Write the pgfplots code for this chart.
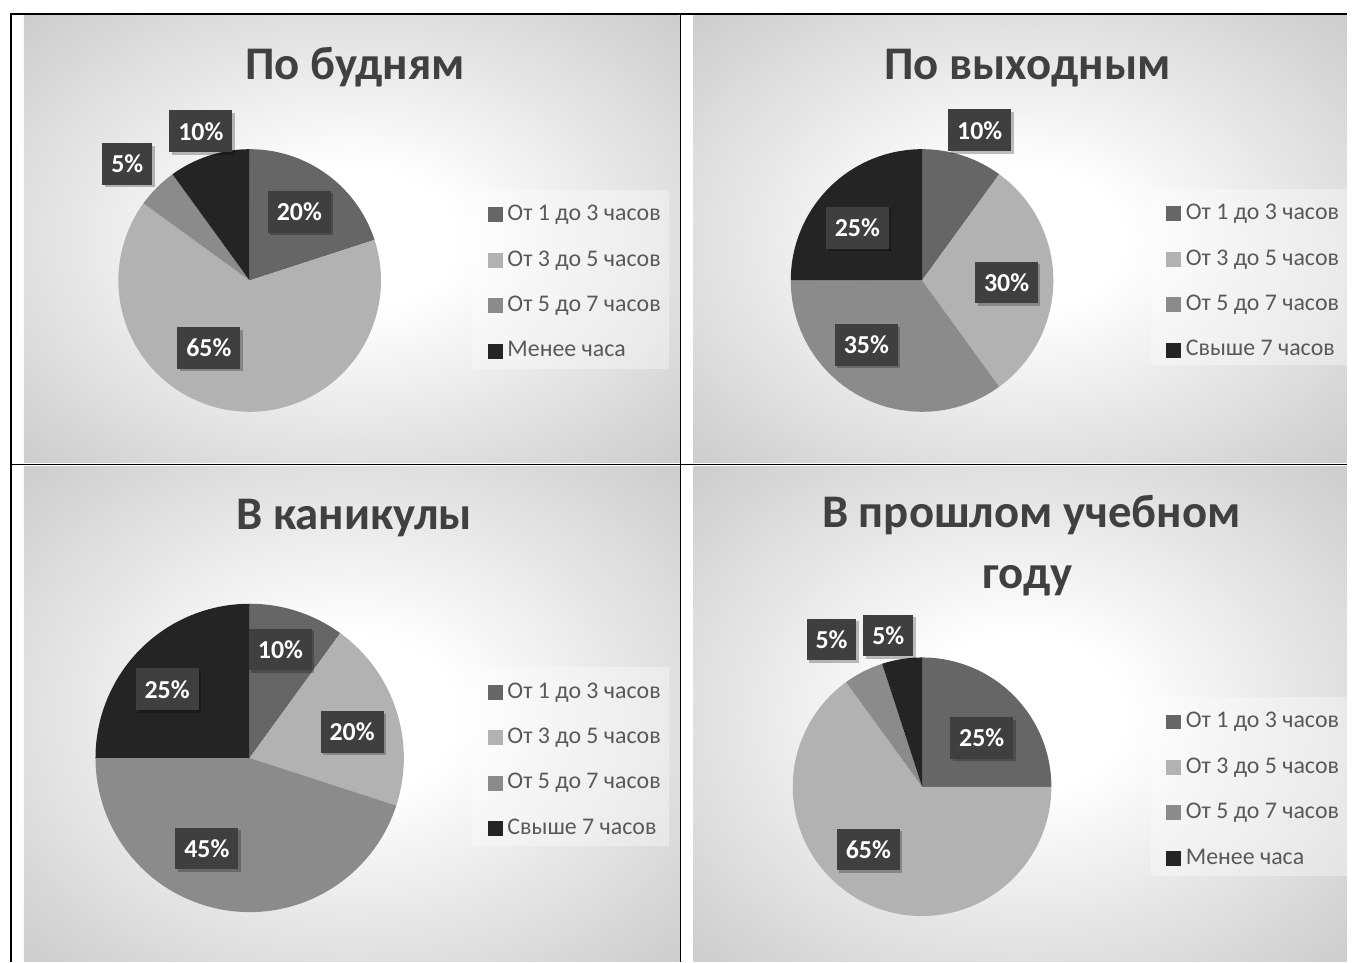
\documentclass[border=0pt]{standalone}
\usepackage{fontspec}
\setmainfont{Carlito}
\usepackage{pgfplots}
\usepackage{pgfplotstable}
\pgfplotsset{compat=1.18}
\usetikzlibrary{shadows}

\definecolor{c1}{HTML}{666666}
\definecolor{c2}{HTML}{B2B2B2}
\definecolor{c3}{HTML}{8B8B8B}
\definecolor{c4}{HTML}{242424}
\definecolor{titlec}{HTML}{404040}
\definecolor{legc}{HTML}{595959}
\definecolor{lblc}{HTML}{3F3F3F}
\definecolor{bgout}{HTML}{C4C4C4}

\pgfdeclareradialshading{cellbg}{\pgfpoint{0bp}{0bp}}{color(0bp)=(white); color(8bp)=(white); color(40bp)=(bgout); color(50bp)=(bgout)}

\tikzset{pctlabel/.style={fill=lblc, text=white, font=\bfseries\fontsize{13}{15}\selectfont,
  inner xsep=4.5pt, inner ysep=0pt, minimum height=21pt,
  drop shadow={shadow xshift=1.2pt, shadow yshift=-1.2pt, opacity=0.25, fill=black}},
  titlestyle/.style={anchor=base, text=titlec, font=\bfseries\fontsize{23.5}{28}\selectfont}}

% value, colour, label position (pixels, y downwards)
\pgfplotstableread{
v c lx ly
20 c1 301 213
65 c2 210 350
5 c3 128 165
10 c4 202 132
}\pieA
\pgfplotstableread{
v c lx ly
10 c1 985 131
30 c2 1012 284
35 c3 871 347
25 c4 862 229
}\pieB
\pgfplotstableread{
v c lx ly
10 c1 282 653
20 c2 354 736
45 c3 208 853
25 c4 168 693
}\pieC
\pgfplotstableread{
v c lx ly
25 c1 987 742
65 c2 873 854
5 c3 836 643
5 c4 893 639
}\pieD

\newcommand\drawpie[4]{%
  \pgfplotstablegetrowsof{#1}%
  \pgfmathtruncatemacro\pielast{\pgfplotsretval-1}%
  \def\piecum{0}%
  \pgfplotsforeachungrouped \pidx in {0,...,\pielast}{%
    \pgfplotstablegetelem{\pidx}{v}\of{#1}\let\pieval\pgfplotsretval
    \pgfplotstablegetelem{\pidx}{c}\of{#1}\let\piecol\pgfplotsretval
    \pgfmathsetmacro\piea{90-3.6*\piecum}%
    \pgfmathsetmacro\pieb{90-3.6*(\piecum+\pieval)}%
    \pgfmathsetmacro\piecum{\piecum+\pieval}%
    \edef\pietmp{\noexpand\fill[\piecol] (axis cs:#2,#3) -- ++(\piea:#4) arc[start angle=\piea, end angle=\pieb, radius=#4] -- cycle;}%
    \pietmp
  }%
  \pgfplotsforeachungrouped \pidx in {0,...,\pielast}{%
    \pgfplotstablegetelem{\pidx}{v}\of{#1}\let\pieval\pgfplotsretval
    \pgfplotstablegetelem{\pidx}{lx}\of{#1}\let\pielx\pgfplotsretval
    \pgfplotstablegetelem{\pidx}{ly}\of{#1}\let\piely\pgfplotsretval
    \edef\pietmp{\noexpand\node[pctlabel] at (axis cs:\pielx,-\piely) {\pieval\noexpand\%};}%
    \pietmp
  }%
}

\pgfplotsset{
  cell/.style={at={(0,0)}, anchor=south west, scale only axis,
    width=677pt, height=483.5pt, xmin=0, xmax=1354, ymin=-967, ymax=0,
    hide axis, clip=false,
    legend cell align=left,
    legend image code/.code={\fill[##1] (0pt,-3.5pt) rectangle (7pt,3.5pt);},
    legend style={anchor=north west, draw=none, fill=none, text=legc,
      font=\fontsize{12}{14}\selectfont,
      inner xsep=7.5pt, inner ysep=6.5pt, row sep=11.45pt,
      nodes={inner sep=0pt, text height=8.7pt, text depth=2.7pt},
      /tikz/every odd column/.append style={column sep=2.5pt}},
  },
}

\begin{document}
\begin{tikzpicture}
% ---------- top left ----------
\begin{axis}[cell, legend style={at={(0.35081,0.80248)}}]
  \path (axis cs:0,0) rectangle (axis cs:1354,-967);
  \shade[shading=cellbg] (axis cs:24,-16) rectangle (axis cs:683,-465);
  \shade[shading=cellbg] (axis cs:697,-16) rectangle (axis cs:1354,-465);
  \shade[shading=cellbg] (axis cs:24,-469) rectangle (axis cs:683,-967);
  \shade[shading=cellbg] (axis cs:697,-469) rectangle (axis cs:1354,-967);
  \draw[line width=1pt] (axis cs:10,-14) -- (axis cs:1354,-14);
  \draw[line width=1pt] (axis cs:11,-14) -- (axis cs:11,-967);
  \draw[line width=0.7pt] (axis cs:684,-14) -- (axis cs:684,-967);
  \draw[line width=0.7pt] (axis cs:10,-467) -- (axis cs:1354,-467);
  \fill[white, opacity=0.35] (axis cs:475,-191) rectangle (axis cs:673,-371);
  \fill[white, opacity=0.35] (axis cs:1157,-190) rectangle (axis cs:1354,-367);
  \fill[white, opacity=0.35] (axis cs:475,-671) rectangle (axis cs:673,-851);
  \fill[white, opacity=0.35] (axis cs:1157,-701) rectangle (axis cs:1354,-881);
  \node[titlestyle] at (axis cs:357,-80) {По будням};
  \drawpie{\pieA}{251}{-282}{66pt}
  \addlegendimage{c1}\addlegendentry{От 1 до 3 часов}
  \addlegendimage{c2}\addlegendentry{От 3 до 5 часов}
  \addlegendimage{c3}\addlegendentry{От 5 до 7 часов}
  \addlegendimage{c4}\addlegendentry{Менее часа}
\end{axis}
% ---------- top right ----------
\begin{axis}[cell, legend style={at={(0.85451,0.80352)}}]
  \node[titlestyle] at (axis cs:1033,-80) {По выходным};
  \drawpie{\pieB}{927}{-282}{66pt}
  \addlegendimage{c1}\addlegendentry{От 1 до 3 часов}
  \addlegendimage{c2}\addlegendentry{От 3 до 5 часов}
  \addlegendimage{c3}\addlegendentry{От 5 до 7 часов}
  \addlegendimage{c4}\addlegendentry{Свыше 7 часов}
\end{axis}
% ---------- bottom left ----------
\begin{axis}[cell, legend style={at={(0.35081,0.30610)}}]
  \node[titlestyle] at (axis cs:356,-532) {В каникулы};
  \drawpie{\pieC}{251}{-762}{77.5pt}
  \addlegendimage{c1}\addlegendentry{От 1 до 3 часов}
  \addlegendimage{c2}\addlegendentry{От 3 до 5 часов}
  \addlegendimage{c3}\addlegendentry{От 5 до 7 часов}
  \addlegendimage{c4}\addlegendentry{Свыше 7 часов}
\end{axis}
% ---------- bottom right ----------
\begin{axis}[cell, legend style={at={(0.85451,0.27508)}}]
  \node[titlestyle] at (axis cs:1037,-530) {В прошлом учебном};
  \node[titlestyle] at (axis cs:1033,-592) {году};
  \drawpie{\pieD}{927}{-791}{65pt}
  \addlegendimage{c1}\addlegendentry{От 1 до 3 часов}
  \addlegendimage{c2}\addlegendentry{От 3 до 5 часов}
  \addlegendimage{c3}\addlegendentry{От 5 до 7 часов}
  \addlegendimage{c4}\addlegendentry{Менее часа}
\end{axis}
\end{tikzpicture}
\end{document}
